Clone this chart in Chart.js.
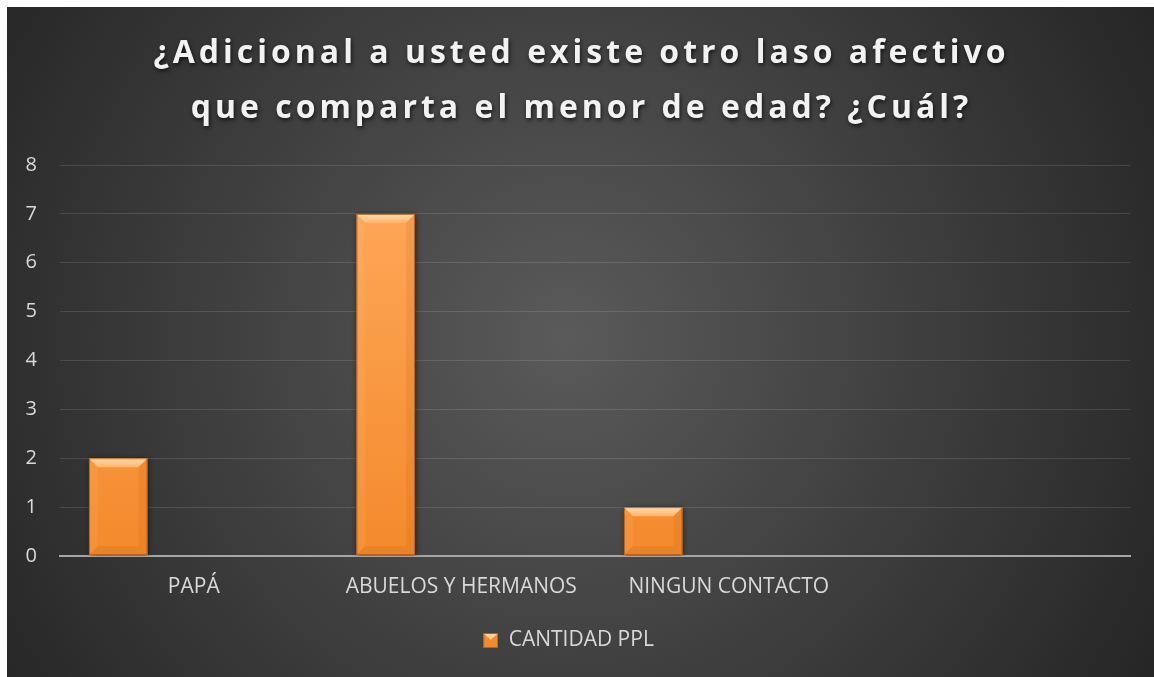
<!DOCTYPE html>
<html>
<head>
<meta charset="utf-8">
<script src="https://cdn.jsdelivr.net/npm/chart.js@4"></script>
<style>
  html, body { margin: 0; background: #262626; overflow: hidden; }
  #graficoLaso { display: block; width: 1154px; height: 677px; }
</style>
</head>
<body>
<canvas id="graficoLaso" width="1154" height="677"></canvas>
<script>
// Datos del gráfico
const categorias = ["PAPÁ", "ABUELOS Y HERMANOS", "NINGUN CONTACTO", ""];
const cantidadPPL = [2, 7, 1, null];
const serieVacia1 = [null, null, null, null];
const serieVacia2 = [null, null, null, null];
const ticksY = [0, 1, 2, 3, 4, 5, 6, 7, 8];
const tituloLineas = [
  "¿Adicional a usted existe otro laso afectivo",
  "que comparta el menor de edad? ¿Cuál?",
];

const fuente = "'Open Sans', 'DejaVu Sans', sans-serif";
const grisTexto = "#d9d9d9";
const margen = 7; // franja blanca arriba y a la izquierda

// Cuadrito de la leyenda con efecto bisel
function cuadroLeyenda() {
  const c = document.createElement("canvas");
  c.width = 15;
  c.height = 15;
  const g = c.getContext("2d");
  g.fillStyle = "#f28b2e";
  g.fillRect(0, 0, 15, 15);
  g.fillStyle = "#ffd3a0";
  g.beginPath();
  g.moveTo(0, 0); g.lineTo(15, 0); g.lineTo(7.5, 7); g.closePath();
  g.fill();
  g.strokeStyle = "#b8621c";
  g.strokeRect(0.5, 0.5, 14, 14);
  return c;
}

// Fondo con degradado radial
const fondo = {
  id: "fondo",
  beforeDraw(chart) {
    const { ctx, width, height } = chart;
    const cx = (width + margen) / 2 - 15, cy = (height + margen) / 2 - 5;
    const grad = ctx.createRadialGradient(cx, cy, 0, cx, cy, Math.hypot(width, height) / 2);
    grad.addColorStop(0, "#5a5a5a");
    grad.addColorStop(1, "#262626");
    ctx.save();
    ctx.fillStyle = "#ffffff";
    ctx.fillRect(0, 0, width, height);
    ctx.fillStyle = grad;
    ctx.fillRect(margen, margen, width - margen, height - margen);
    ctx.restore();
  },
};

// Sombra de las barras
const sombra = {
  id: "sombra",
  beforeDatasetsDraw(chart) {
    const ctx = chart.ctx;
    ctx.save();
    ctx.shadowColor = "rgba(0,0,0,0.55)";
    ctx.shadowBlur = 6;
    ctx.shadowOffsetX = 1;
    ctx.shadowOffsetY = 1;
  },
  afterDatasetsDraw(chart) {
    chart.ctx.restore();
  },
};

// Bisel sobre cada barra
const bisel = {
  id: "bisel",
  afterDatasetsDraw(chart) {
    const ctx = chart.ctx;
    chart.getDatasetMeta(0).data.forEach((barra, i) => {
      if (cantidadPPL[i] == null) return;
      const { x, y, base, width } = barra.getProps(["x", "y", "base", "width"], true);
      const l = x - width / 2, r = x + width / 2, t = y, b = base;
      const d = Math.min(9, (b - t) / 2);
      ctx.save();
      // arriba
      const gt = ctx.createLinearGradient(0, t, 0, t + d);
      gt.addColorStop(0, "#ffdcb0");
      gt.addColorStop(1, "#ffb46c");
      ctx.fillStyle = gt;
      ctx.beginPath();
      ctx.moveTo(l, t); ctx.lineTo(r, t); ctx.lineTo(r - d, t + d); ctx.lineTo(l + d, t + d);
      ctx.closePath(); ctx.fill();
      // abajo
      ctx.fillStyle = "rgba(190,95,20,0.18)";
      ctx.beginPath();
      ctx.moveTo(l, b); ctx.lineTo(r, b); ctx.lineTo(r - d, b - d); ctx.lineTo(l + d, b - d);
      ctx.closePath(); ctx.fill();
      // izquierda
      ctx.fillStyle = "rgba(255,255,255,0.06)";
      ctx.beginPath();
      ctx.moveTo(l, t); ctx.lineTo(l + d, t + d); ctx.lineTo(l + d, b - d); ctx.lineTo(l, b);
      ctx.closePath(); ctx.fill();
      // derecha
      ctx.fillStyle = "rgba(170,80,10,0.12)";
      ctx.beginPath();
      ctx.moveTo(r, t); ctx.lineTo(r - d, t + d); ctx.lineTo(r - d, b - d); ctx.lineTo(r, b);
      ctx.closePath(); ctx.fill();
      ctx.strokeStyle = "rgba(180,95,30,0.9)";
      ctx.lineWidth = 1;
      ctx.strokeRect(l + 0.5, t + 0.5, width - 1, b - t - 1);
      ctx.restore();
    });
  },
};

// Título con espaciado entre letras y sombra
const titulo = {
  id: "titulo",
  afterDraw(chart) {
    const ctx = chart.ctx;
    ctx.save();
    ctx.font = "bold 32px " + fuente;
    ctx.letterSpacing = "4px";
    ctx.textAlign = "center";
    ctx.textBaseline = "alphabetic";
    ctx.fillStyle = "#f2f2f2";
    ctx.shadowColor = "rgba(0,0,0,0.7)";
    ctx.shadowBlur = 4;
    ctx.shadowOffsetX = 1;
    ctx.shadowOffsetY = 2;
    const cx = (chart.width + margen) / 2 + 1;
    ctx.fillText(tituloLineas[0], cx, margen + 56);
    ctx.fillText(tituloLineas[1], cx, margen + 111);
    ctx.restore();
  },
};

function rellenoBarra(context) {
  const area = context.chart.chartArea;
  if (!area) return "#f7953f";
  const g = context.chart.ctx.createLinearGradient(0, area.top, 0, area.bottom);
  g.addColorStop(0, "#ffaa5c");
  g.addColorStop(1, "#f48a2c");
  return g;
}

const config = {
  type: "bar",
  data: {
    labels: categorias,
    datasets: [
      {
        label: "CANTIDAD PPL",
        data: cantidadPPL,
        backgroundColor: rellenoBarra,
        borderWidth: 0,
        pointStyle: cuadroLeyenda(),
        categoryPercentage: 0.847,
        barPercentage: 0.775,
      },
      { label: "", data: serieVacia1, categoryPercentage: 0.847, barPercentage: 0.775 },
      { label: "", data: serieVacia2, categoryPercentage: 0.847, barPercentage: 0.775 },
    ],
  },
  options: {
    responsive: false,
    animation: false,
    layout: { padding: { left: margen, right: 24, top: 158 + margen, bottom: 16 } },
    plugins: {
      title: { display: false },
      tooltip: { enabled: false },
      legend: {
        position: "bottom",
        labels: {
          usePointStyle: true,
          pointStyleWidth: 15,
          color: grisTexto,
          font: { family: fuente, size: 21 },
          padding: 10,
          filter: (item) => item.datasetIndex === 0,
        },
      },
    },
    scales: {
      x: {
        grid: { display: false },
        border: { display: true, color: "#a6a6a6", width: 2 },
        ticks: {
          color: grisTexto,
          font: { family: fuente, size: 21 },
          padding: 10,
          maxRotation: 0,
          autoSkip: false,
        },
        afterFit(scale) { scale.height = 64; },
      },
      y: {
        min: ticksY[0],
        max: ticksY[ticksY.length - 1],
        afterBuildTicks(scale) { scale.ticks = ticksY.map((v) => ({ value: v })); },
        grid: {
          color: (c) => (c.tick && c.tick.value === 0 ? "#a6a6a6" : "rgba(255,255,255,0.12)"),
          lineWidth: (c) => (c.tick && c.tick.value === 0 ? 2 : 1),
          drawTicks: false,
        },
        border: { display: false },
        ticks: {
          color: grisTexto,
          font: { family: fuente, size: 20 },
          padding: 23,
        },
        afterFit(scale) { scale.width = 53; },
      },
    },
  },
  plugins: [fondo, sombra, bisel, titulo],
};

const ctx = document.getElementById("graficoLaso").getContext("2d");
const graficoLaso = new Chart(ctx, config);
</script>
</body>
</html>
